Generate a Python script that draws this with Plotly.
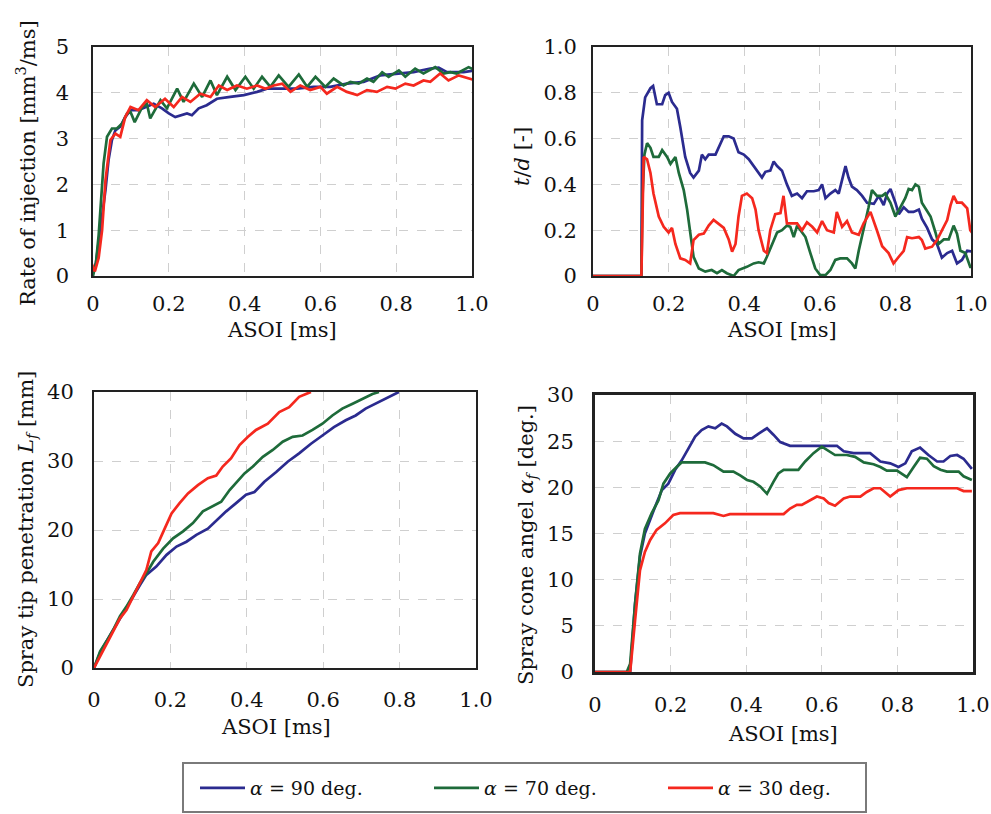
import plotly.graph_objects as go

# ---------------- data ----------------
series_names = ["<i>α</i> = 90 deg.", "<i>α</i> = 70 deg.", "<i>α</i> = 30 deg."]
series_colors = ["#2b2b8f", "#1e6b3a", "#f5281e"]

# Panel 1: rate of injection
rate_x_90 = [-0.015, -0.008, 0.0, 0.008, 0.019, 0.033, 0.041, 0.05, 0.059, 0.072, 0.085, 0.099, 0.12, 0.142, 0.16,
             0.182, 0.2, 0.217, 0.23, 0.248, 0.261, 0.279, 0.3, 0.327, 0.362, 0.398, 0.433, 0.459, 0.494, 0.538,
             0.582, 0.626, 0.67, 0.714, 0.758, 0.802, 0.846, 0.89, 0.912, 0.934, 0.978, 1.018]
rate_y_90 = [0.0, 0.2, 0.05, 0.3, 1.0, 1.88, 2.53, 2.97, 3.18, 3.26, 3.47, 3.62, 3.62, 3.69, 3.76,
             3.66, 3.55, 3.47, 3.51, 3.55, 3.51, 3.66, 3.73, 3.87, 3.91, 3.95, 4.02, 4.09, 4.09, 4.09,
             4.13, 4.13, 4.20, 4.24, 4.38, 4.42, 4.45, 4.53, 4.55, 4.45, 4.45, 4.50]
rate_x_70 = [-0.015, -0.008, 0.0, 0.008, 0.015, 0.022, 0.028, 0.037, 0.05, 0.063, 0.077, 0.09, 0.099, 0.11, 0.13,
             0.142, 0.151, 0.178, 0.195, 0.222, 0.239, 0.266, 0.288, 0.31, 0.327, 0.354, 0.376, 0.402, 0.424,
             0.446, 0.468, 0.49, 0.516, 0.543, 0.565, 0.587, 0.613, 0.635, 0.661, 0.679, 0.701, 0.723, 0.74,
             0.763, 0.78, 0.807, 0.824, 0.85, 0.872, 0.903, 0.925, 0.943, 0.96, 0.991, 1.018]
rate_y_70 = [0.05, 0.25, 0.0, 0.3, 0.9, 1.8, 2.46, 3.04, 3.22, 3.22, 3.33, 3.55, 3.58, 3.36, 3.69,
             3.76, 3.44, 3.84, 3.66, 4.09, 3.80, 4.20, 3.91, 4.27, 3.95, 4.35, 4.06, 4.35, 4.09,
             4.35, 4.13, 4.38, 4.13, 4.40, 4.13, 4.35, 4.13, 4.31, 4.16, 4.24, 4.20, 4.31, 4.24,
             4.45, 4.35, 4.49, 4.35, 4.53, 4.42, 4.56, 4.42, 4.45, 4.42, 4.56, 4.45]
rate_x_30 = [-0.015, -0.005, 0.005, 0.015, 0.024, 0.033, 0.046, 0.059, 0.072, 0.085, 0.099, 0.12, 0.142, 0.164,
             0.19, 0.213, 0.235, 0.257, 0.283, 0.31, 0.332, 0.354, 0.38, 0.406, 0.433, 0.455, 0.477, 0.499,
             0.521, 0.547, 0.573, 0.6, 0.617, 0.644, 0.67, 0.697, 0.723, 0.749, 0.776, 0.798, 0.824, 0.846,
             0.872, 0.89, 0.916, 0.938, 0.965, 0.991, 1.022]
rate_y_30 = [0.1, 0.3, 0.1, 0.4, 1.0, 2.1, 2.97, 3.11, 3.04, 3.47, 3.69, 3.62, 3.84, 3.69,
             3.87, 3.69, 3.91, 3.80, 3.98, 3.91, 4.16, 4.06, 4.16, 4.09, 4.16, 4.09, 4.16, 4.20,
             4.02, 4.16, 4.06, 4.13, 3.98, 4.13, 4.02, 3.95, 4.06, 4.02, 4.13, 4.09, 4.20, 4.16,
             4.27, 4.24, 4.42, 4.27, 4.38, 4.31, 4.24]

# Panel 2: t/d
td_x_90 = [0.0, 0.128, 0.13, 0.138, 0.152, 0.159, 0.169, 0.183, 0.191, 0.2, 0.209, 0.222, 0.231, 0.244, 0.257,
           0.266, 0.28, 0.288, 0.297, 0.306, 0.324, 0.337, 0.346, 0.359, 0.372, 0.385, 0.399, 0.412, 0.425,
           0.438, 0.447, 0.456, 0.469, 0.478, 0.487, 0.5, 0.513, 0.526, 0.54, 0.553, 0.566, 0.584, 0.597,
           0.606, 0.615, 0.628, 0.641, 0.65, 0.659, 0.668, 0.676, 0.685, 0.698, 0.712, 0.725, 0.743, 0.756,
           0.769, 0.778, 0.787, 0.8, 0.809, 0.822, 0.835, 0.848, 0.862, 0.87, 0.884, 0.897, 0.91, 0.923,
           0.937, 0.95, 0.963, 0.976, 0.99, 1.01]
td_y_90 = [0.0, 0.0, 0.68, 0.78, 0.82, 0.83, 0.75, 0.75, 0.79, 0.80, 0.76, 0.73, 0.65, 0.52, 0.45,
           0.43, 0.46, 0.53, 0.51, 0.53, 0.53, 0.58, 0.61, 0.61, 0.60, 0.54, 0.53, 0.51, 0.48,
           0.455, 0.43, 0.455, 0.46, 0.50, 0.48, 0.46, 0.40, 0.35, 0.36, 0.34, 0.37, 0.37, 0.375,
           0.40, 0.34, 0.36, 0.375, 0.36, 0.42, 0.48, 0.43, 0.39, 0.375, 0.35, 0.32, 0.315, 0.35,
           0.31, 0.36, 0.38, 0.32, 0.27, 0.30, 0.28, 0.28, 0.29, 0.25, 0.21, 0.16, 0.14, 0.08,
           0.10, 0.11, 0.055, 0.07, 0.11, 0.105]
td_x_70 = [0.0, 0.128, 0.131, 0.136, 0.143, 0.152, 0.16, 0.174, 0.183, 0.196, 0.205, 0.218, 0.227, 0.24, 0.249,
           0.257, 0.266, 0.28, 0.297, 0.314, 0.328, 0.341, 0.354, 0.372, 0.385, 0.407, 0.425, 0.438, 0.452,
           0.46, 0.474, 0.487, 0.5, 0.513, 0.522, 0.531, 0.54, 0.553, 0.562, 0.575, 0.588, 0.601, 0.615,
           0.628, 0.641, 0.654, 0.672, 0.685, 0.694, 0.703, 0.716, 0.729, 0.738, 0.751, 0.765, 0.773, 0.787,
           0.8, 0.813, 0.826, 0.835, 0.844, 0.853, 0.862, 0.87, 0.884, 0.893, 0.906, 0.914, 0.928, 0.941,
           0.954, 0.963, 0.972, 0.985, 0.998, 1.01]
td_y_70 = [0.0, 0.0, 0.35, 0.53, 0.58, 0.56, 0.52, 0.52, 0.55, 0.52, 0.49, 0.52, 0.45, 0.375, 0.29,
           0.19, 0.084, 0.033, 0.019, 0.026, 0.012, 0.026, 0.012, 0.0, 0.026, 0.04, 0.055, 0.06, 0.055,
           0.084, 0.14, 0.19, 0.20, 0.22, 0.215, 0.17, 0.22, 0.19, 0.17, 0.10, 0.033, 0.004, 0.004,
           0.026, 0.07, 0.077, 0.077, 0.055, 0.033, 0.11, 0.20, 0.30, 0.375, 0.35, 0.35, 0.36, 0.32,
           0.26, 0.30, 0.34, 0.38, 0.375, 0.40, 0.39, 0.32, 0.28, 0.26, 0.19, 0.14, 0.16, 0.16,
           0.22, 0.185, 0.11, 0.10, 0.04, 0.04]
td_x_30 = [0.0, 0.128, 0.134, 0.143, 0.152, 0.16, 0.174, 0.187, 0.2, 0.209, 0.218, 0.231, 0.244, 0.257, 0.266,
           0.28, 0.293, 0.306, 0.319, 0.332, 0.346, 0.359, 0.368, 0.377, 0.385, 0.394, 0.407, 0.421, 0.43,
           0.438, 0.452, 0.46, 0.469, 0.482, 0.496, 0.504, 0.513, 0.526, 0.54, 0.553, 0.566, 0.58, 0.593,
           0.606, 0.619, 0.637, 0.645, 0.659, 0.672, 0.685, 0.703, 0.716, 0.734, 0.751, 0.765, 0.782, 0.795,
           0.809, 0.822, 0.831, 0.844, 0.862, 0.87, 0.879, 0.897, 0.91, 0.923, 0.937, 0.946, 0.954, 0.963,
           0.976, 0.99, 0.998, 1.007]
td_y_30 = [0.0, 0.0, 0.52, 0.51, 0.45, 0.36, 0.26, 0.215, 0.19, 0.21, 0.14, 0.077, 0.07, 0.055, 0.157,
           0.18, 0.185, 0.22, 0.245, 0.23, 0.21, 0.16, 0.106, 0.14, 0.26, 0.35, 0.36, 0.34, 0.29,
           0.20, 0.11, 0.10, 0.20, 0.27, 0.275, 0.35, 0.23, 0.23, 0.23, 0.20, 0.235, 0.215, 0.19,
           0.24, 0.20, 0.19, 0.28, 0.215, 0.24, 0.19, 0.18, 0.23, 0.28, 0.20, 0.13, 0.10, 0.055,
           0.084, 0.11, 0.17, 0.165, 0.17, 0.157, 0.12, 0.128, 0.157, 0.20, 0.244, 0.31, 0.35, 0.32,
           0.32, 0.295, 0.20, 0.18]

# Panel 3: spray tip penetration
pen_x_90 = [0.0, 0.016, 0.033, 0.05, 0.068, 0.085, 0.103, 0.12, 0.137, 0.163, 0.19, 0.216, 0.242, 0.268, 0.298,
            0.32, 0.346, 0.372, 0.398, 0.42, 0.446, 0.477, 0.507, 0.537, 0.568, 0.598, 0.628, 0.659, 0.685,
            0.711, 0.746, 0.777, 0.798]
pen_y_90 = [0.0, 2.2, 3.9, 5.5, 7.2, 8.9, 10.6, 12.0, 13.5, 14.7, 16.4, 17.6, 18.3, 19.3, 20.2,
            21.4, 22.7, 23.9, 25.1, 25.5, 27.0, 28.4, 29.9, 31.1, 32.5, 33.7, 34.9, 35.9, 36.6,
            37.6, 38.6, 39.5, 40.0]
pen_x_70 = [0.0, 0.016, 0.033, 0.05, 0.068, 0.085, 0.103, 0.12, 0.137, 0.155, 0.181, 0.207, 0.233, 0.259, 0.285,
            0.311, 0.333, 0.355, 0.377, 0.394, 0.416, 0.442, 0.468, 0.494, 0.52, 0.546, 0.572, 0.598, 0.624,
            0.65, 0.677, 0.703, 0.729, 0.746]
pen_y_70 = [0.0, 2.4, 3.9, 5.5, 7.5, 8.9, 10.6, 12.3, 13.7, 15.4, 17.3, 18.8, 19.8, 21.0, 22.7,
            23.4, 24.1, 25.8, 27.2, 28.2, 29.2, 30.6, 31.6, 32.8, 33.5, 33.7, 34.5, 35.4, 36.6,
            37.6, 38.3, 39.0, 39.7, 40.0]
pen_x_30 = [0.0, 0.016, 0.033, 0.05, 0.068, 0.085, 0.103, 0.12, 0.137, 0.15, 0.168, 0.185, 0.203, 0.224, 0.246,
            0.272, 0.298, 0.32, 0.337, 0.359, 0.381, 0.403, 0.424, 0.455, 0.485, 0.511, 0.537, 0.563, 0.568]
pen_y_30 = [0.0, 1.7, 3.6, 5.5, 7.2, 8.4, 10.4, 12.3, 14.2, 16.9, 18.1, 20.2, 22.4, 23.9, 25.3,
            26.5, 27.5, 27.9, 29.2, 30.4, 32.3, 33.5, 34.5, 35.4, 37.1, 37.8, 39.3, 39.9, 40.0]

# Panel 4: spray cone angle
cone_x_90 = [0.0, 0.084, 0.093, 0.106, 0.119, 0.132, 0.146, 0.159, 0.177, 0.194, 0.212, 0.229, 0.247, 0.265, 0.282,
             0.3, 0.318, 0.335, 0.349, 0.371, 0.393, 0.415, 0.432, 0.455, 0.472, 0.49, 0.516, 0.56, 0.605,
             0.64, 0.658, 0.684, 0.728, 0.755, 0.781, 0.803, 0.821, 0.838, 0.86, 0.882, 0.905, 0.922, 0.94,
             0.958, 0.975, 0.997]
cone_y_90 = [0.0, 0.0, 0.0, 7.4, 12.5, 15.0, 16.6, 17.9, 19.7, 20.4, 21.9, 22.9, 24.2, 25.5, 26.2,
             26.6, 26.4, 26.9, 26.6, 25.8, 25.3, 25.3, 25.8, 26.4, 25.7, 24.9, 24.5, 24.5, 24.5,
             24.5, 23.9, 23.7, 23.7, 22.8, 22.6, 22.2, 22.6, 23.9, 24.3, 23.5, 22.8, 22.8, 23.4,
             23.5, 23.1, 22.0]
cone_x_70 = [0.0, 0.084, 0.093, 0.106, 0.119, 0.132, 0.15, 0.168, 0.181, 0.199, 0.216, 0.229, 0.26, 0.291, 0.313,
             0.34, 0.366, 0.384, 0.402, 0.419, 0.437, 0.455, 0.472, 0.485, 0.499, 0.538, 0.556, 0.578, 0.6,
             0.618, 0.635, 0.666, 0.688, 0.711, 0.737, 0.755, 0.772, 0.799, 0.825, 0.843, 0.86, 0.878, 0.896,
             0.914, 0.931, 0.962, 0.975, 0.997]
cone_y_70 = [0.0, 0.0, 0.9, 7.4, 12.8, 15.5, 17.2, 18.6, 20.4, 21.5, 22.2, 22.7, 22.7, 22.7, 22.4,
             21.7, 21.7, 21.3, 20.8, 20.6, 20.1, 19.3, 20.6, 21.5, 21.9, 21.9, 22.8, 23.7, 24.4,
             23.9, 23.5, 23.5, 23.3, 22.7, 22.5, 22.2, 21.8, 21.8, 21.1, 22.2, 23.2, 23.1, 22.3,
             21.9, 21.7, 21.7, 21.2, 20.8]
cone_x_30 = [0.0, 0.093, 0.106, 0.119, 0.132, 0.146, 0.163, 0.185, 0.207, 0.225, 0.313, 0.34, 0.357, 0.402, 0.446,
             0.499, 0.516, 0.534, 0.547, 0.569, 0.587, 0.605, 0.618, 0.635, 0.658, 0.675, 0.702, 0.719, 0.737,
             0.755, 0.781, 0.803, 0.825, 0.887, 0.958, 0.975, 0.997]
cone_y_30 = [0.0, 0.0, 5.6, 11.0, 13.0, 14.3, 15.4, 16.1, 17.0, 17.2, 17.2, 16.9, 17.1, 17.1, 17.1,
             17.1, 17.7, 18.1, 18.1, 18.6, 19.0, 18.8, 18.3, 18.0, 18.8, 19.0, 19.0, 19.5, 19.9,
             19.9, 19.0, 19.7, 19.9, 19.9, 19.9, 19.6, 19.6]

x_tick_vals = [0, 0.2, 0.4, 0.6, 0.8, 1.0]
x_tick_text = ["0", "0.2", "0.4", "0.6", "0.8", "1.0"]
rate_ticks = [0, 1, 2, 3, 4, 5]
td_tick_vals = [0, 0.2, 0.4, 0.6, 0.8, 1.0]
td_tick_text = ["0", "0.2", "0.4", "0.6", "0.8", "1.0"]
pen_ticks = [0, 10, 20, 30, 40]
cone_ticks = [0, 5, 10, 15, 20, 25, 30]

# ---------------- figure ----------------
W, H = 991, 814
FONT = "DejaVu Serif"
TXT = "#111111"
fig = go.Figure()

panels = [
    ("x", "y", [(rate_x_90, rate_y_90), (rate_x_70, rate_y_70), (rate_x_30, rate_y_30)]),
    ("x2", "y2", [(td_x_90, td_y_90), (td_x_70, td_y_70), (td_x_30, td_y_30)]),
    ("x3", "y3", [(pen_x_90, pen_y_90), (pen_x_70, pen_y_70), (pen_x_30, pen_y_30)]),
    ("x4", "y4", [(cone_x_90, cone_y_90), (cone_x_70, cone_y_70), (cone_x_30, cone_y_30)]),
]
for pi, (xa, ya, data) in enumerate(panels):
    for si, (xs, ys) in enumerate(data):
        fig.add_trace(go.Scatter(
            x=xs, y=ys, mode="lines", xaxis=xa, yaxis=ya,
            name=series_names[si], legendgroup=str(si), showlegend=(pi == 0),
            line=dict(color=series_colors[si], width=2.7),
        ))

def px_x(v):
    return v / W

def px_y(v):
    return 1 - v / H

def xaxis(dom, anchor, lw=2, standoff=10):
    return dict(domain=dom, anchor=anchor, range=[0, 1.0], tickvals=x_tick_vals, ticktext=x_tick_text,
                showline=True, mirror=True, linecolor="#222", linewidth=lw, ticks="",
                showgrid=True, gridcolor="#cfcfcf", griddash="dash", gridwidth=1, zeroline=False,
                tickfont=dict(family=FONT, size=21, color=TXT), ticklabelstandoff=standoff)

def yaxis(dom, anchor, rng, tv, tt, lw=2, standoff=16):
    return dict(domain=dom, anchor=anchor, range=rng, tickvals=tv, ticktext=tt,
                showline=True, mirror=True, linecolor="#222", linewidth=lw, ticks="",
                showgrid=True, gridcolor="#cfcfcf", griddash="dash", gridwidth=1, zeroline=False,
                tickfont=dict(family=FONT, size=21, color=TXT), ticklabelstandoff=standoff)

d1x = [px_x(93), px_x(472)]
d2x = [px_x(593), px_x(971)]
d3x = [px_x(94), px_x(476)]
d4x = [px_x(595), px_x(973)]
dtop = [px_y(276), px_y(47)]
d3y = [px_y(668), px_y(392)]
d4y = [px_y(672), px_y(395)]

fig.update_layout(
    width=W, height=H, autosize=False,
    margin=dict(l=0, r=0, t=0, b=0, autoexpand=False),
    paper_bgcolor="white", plot_bgcolor="white",
    font=dict(family=FONT, size=21, color=TXT),
    xaxis=xaxis(d1x, "y", lw=1.5, standoff=8),
    yaxis=yaxis(dtop, "x", [0, 5], rate_ticks, [str(v) for v in rate_ticks], lw=1.5, standoff=18),
    xaxis2=xaxis(d2x, "y2", standoff=8),
    yaxis2=yaxis(dtop, "x2", [0, 1.0], td_tick_vals, td_tick_text, standoff=10),
    xaxis3=xaxis(d3x, "y3", standoff=12),
    yaxis3=yaxis(d3y, "x3", [0, 40], pen_ticks, [str(v) for v in pen_ticks], standoff=14),
    xaxis4=xaxis(d4x, "y4", lw=3, standoff=12),
    yaxis4=yaxis(d4y, "x4", [0, 30], cone_ticks, [str(v) for v in cone_ticks], lw=3, standoff=14),
    legend=dict(orientation="h", x=px_x(195), y=px_y(788), xanchor="left", yanchor="middle",
                borderwidth=0, bgcolor="rgba(0,0,0,0)",
                font=dict(family=FONT, size=19, color=TXT),
                itemwidth=45, entrywidth=174, tracegroupgap=0),
    shapes=[dict(type="rect", xref="paper", yref="paper", x0=px_x(183), x1=px_x(866),
                 y0=px_y(812), y1=px_y(763), line=dict(color="#7a7a7a", width=2), layer="below")],
)

title_font = dict(family=FONT, size=21, color=TXT)
x_titles = [(282, 330), (782, 330), (276, 727), (783, 734)]
for (cx, cy) in x_titles:
    fig.add_annotation(text="ASOI [ms]", x=px_x(cx), y=px_y(cy), xref="paper", yref="paper",
                       showarrow=False, xanchor="center", yanchor="middle", font=title_font)

y_titles = [
    ("Rate of injection [mm<sup>3</sup>/ms]", 26, 163),
    ("<i>t</i>/<i>d</i> [-]", 522, 157),
    ("Spray tip penetration <i>L<sub>f</sub></i> [mm]", 27, 530),
    ("Spray cone angel <i>α<sub>f</sub></i> [deg.]", 527, 545),
]
for (txt, cx, cy) in y_titles:
    fig.add_annotation(text=txt, x=px_x(cx), y=px_y(cy), xref="paper", yref="paper", textangle=-90,
                       showarrow=False, xanchor="center", yanchor="middle", font=title_font)

fig.write_html("out.html", config={"displayModeBar": False},
               post_script="document.body.style.margin='0px';")
